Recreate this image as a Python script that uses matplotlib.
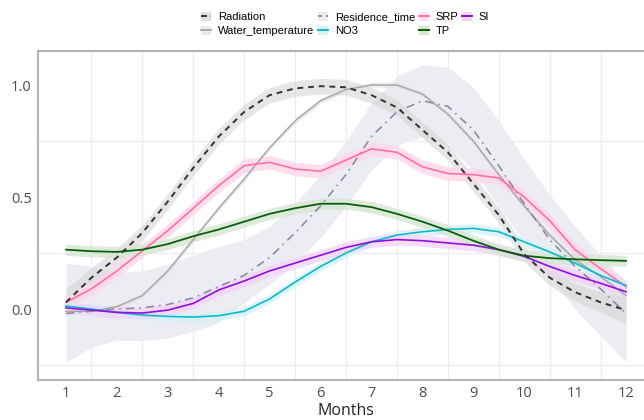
import numpy as np
import matplotlib.pyplot as plt
from matplotlib.patches import Patch
from matplotlib.lines import Line2D

# months at half-month steps
months = np.arange(1, 12.01, 0.5)

radiation = [0.03, 0.14, 0.23, 0.34, 0.48, 0.63, 0.77, 0.88, 0.955, 0.985, 0.995, 0.99,
             0.955, 0.90, 0.80, 0.70, 0.56, 0.42, 0.245, 0.14, 0.075, 0.03, -0.005]
water_temp = [-0.01, -0.01, 0.01, 0.06, 0.17, 0.31, 0.45, 0.58, 0.72, 0.84, 0.93, 0.98,
              1.0, 1.0, 0.96, 0.87, 0.75, 0.60, 0.46, 0.33, 0.22, 0.145, 0.06]
residence = [-0.02, -0.01, 0.0, 0.005, 0.02, 0.05, 0.10, 0.15, 0.23, 0.34, 0.46, 0.60,
             0.77, 0.88, 0.93, 0.905, 0.80, 0.64, 0.47, 0.31, 0.19, 0.09, -0.02]
residence_hi = [0.205, 0.19, 0.165, 0.17, 0.20, 0.24, 0.28, 0.31, 0.37, 0.47, 0.60, 0.75,
                0.92, 1.04, 1.09, 1.08, 0.99, 0.84, 0.67, 0.51, 0.37, 0.24, 0.12]
residence_lo = [-0.24, -0.17, -0.14, -0.14, -0.13, -0.10, -0.06, 0.03, 0.11, 0.20, 0.32, 0.46,
                0.62, 0.73, 0.77, 0.73, 0.62, 0.46, 0.30, 0.14, 0.0, -0.12, -0.235]
srp = [0.03, 0.09, 0.17, 0.26, 0.35, 0.45, 0.55, 0.64, 0.655, 0.625, 0.615, 0.665,
       0.715, 0.70, 0.635, 0.605, 0.60, 0.585, 0.50, 0.395, 0.265, 0.18, 0.10]
no3 = [0.013, 0.0, -0.015, -0.027, -0.033, -0.036, -0.03, -0.01, 0.045, 0.12, 0.19, 0.25,
       0.30, 0.33, 0.345, 0.355, 0.36, 0.345, 0.30, 0.255, 0.205, 0.15, 0.105]
si = [0.005, -0.005, -0.015, -0.018, -0.005, 0.025, 0.085, 0.125, 0.17, 0.205, 0.24, 0.275,
      0.30, 0.31, 0.305, 0.295, 0.285, 0.265, 0.235, 0.19, 0.15, 0.115, 0.077]
tp = [0.265, 0.258, 0.255, 0.265, 0.29, 0.325, 0.355, 0.39, 0.425, 0.45, 0.47, 0.47,
      0.455, 0.425, 0.39, 0.35, 0.305, 0.265, 0.238, 0.227, 0.222, 0.218, 0.215]

# ribbon half widths
rad_se = [0.06, 0.045, 0.04, 0.035, 0.035, 0.035, 0.035, 0.035, 0.035, 0.035, 0.035, 0.035,
          0.035, 0.035, 0.035, 0.035, 0.035, 0.035, 0.035, 0.035, 0.04, 0.045, 0.06]

fig = plt.figure(figsize=(6.44, 4.2), dpi=100)
ax = fig.add_axes([38 / 644, 40 / 420, (654 - 38) / 644, (380 - 51) / 420])

ax.fill_between(months, residence_lo, residence_hi, color='#ececf3', lw=0, zorder=1)
r = np.array(radiation)
s = np.array(rad_se)
ax.fill_between(months, r - s, r + s, color='#d6d6d6', alpha=0.6, lw=0, zorder=2)
w = np.array(water_temp)
ax.fill_between(months, w - 0.012, w + 0.012, color='#e2e2e2', alpha=0.6, lw=0, zorder=2)
for vals, col, se in [(srp, '#ffd6e8', 0.03), (no3, '#d2f3f6', 0.02),
                      (si, '#f3d4fa', 0.025), (tp, '#d6e6d3', 0.025)]:
    v = np.array(vals)
    ax.fill_between(months, v - se, v + se, color=col, alpha=0.8, lw=0, zorder=2)

ax.plot(months, water_temp, color='#a9a9a9', lw=1.1, zorder=3)
ax.plot(months, residence, color='#8c8ca3', lw=1.2, dashes=(5, 3, 1, 3), zorder=3)
ax.plot(months, srp, color='#ff6fa8', lw=1.2, zorder=3)
ax.plot(months, no3, color='#12b8c8', lw=1.2, zorder=3)
ax.plot(months, si, color='#9010d8', lw=1.2, zorder=3)
ax.plot(months, tp, color='#0b5e0b', lw=1.3, zorder=3)
ax.plot(months, radiation, color='#333333', lw=1.4, dashes=(3, 2.5), zorder=4)

ax.set_xlim(0.45, 12.55)
ax.set_ylim(-0.317, 1.152)
ax.set_xticks(range(1, 13))
ax.set_yticks([0.0, 0.5, 1.0])
ax.set_yticklabels(['0.0', '0.5', '1.0'])
ax.set_xticks(np.arange(1.5, 12, 1), minor=True)
ax.set_yticks([-0.25, 0.25, 0.75], minor=True)
ax.grid(which='minor', color='#ececec', lw=0.8)
ax.grid(which='major', visible=False)
ax.set_axisbelow(True)
ax.tick_params(which='both', length=0)
ax.tick_params(axis='both', labelsize=10.5, labelcolor='#4d4d4d', pad=4.5)
for sp in ax.spines.values():
    sp.set_color('#b5b5b5')
    sp.set_linewidth(1.5)
ax.set_xlabel('Months', fontsize=11.5, color='#222222', labelpad=1)

for lab in ax.get_xticklabels() + ax.get_yticklabels():
    lab.set_family('Open Sans')
ax.xaxis.label.set_family('Open Sans')

def key(line_col, fill_col, **kw):
    return (Patch(facecolor=fill_col, edgecolor='none'),
            Line2D([], [], color=line_col, lw=1.4, **kw))

handles = [key('#333333', '#e0e0e0', dashes=(3, 2)),
           key('#a9a9a9', '#ebebeb'),
           key('#8c8ca3', '#ececf3', dashes=(2, 2)),
           key('#12b8c8', '#d2f3f6'),
           key('#ff6fa8', '#ffe0ee'),
           key('#0b5e0b', '#d6e6d3'),
           key('#9010d8', '#f3d4fa'),
           Line2D([], [], alpha=0)]
labels = ['Radiation', 'Water_temperature', 'Residence_time', 'NO3',
          'SRP', 'TP', 'SI', '']
fig.legend(handles, labels, loc='center', bbox_to_anchor=(0.536, 0.943), ncol=4,
           frameon=False, handlelength=0.9, handleheight=0.9,
           handletextpad=0.6, columnspacing=0.35, labelspacing=0.35,
           prop={'family': 'Liberation Sans', 'size': 8})

fig.savefig('out.png', dpi=100)
